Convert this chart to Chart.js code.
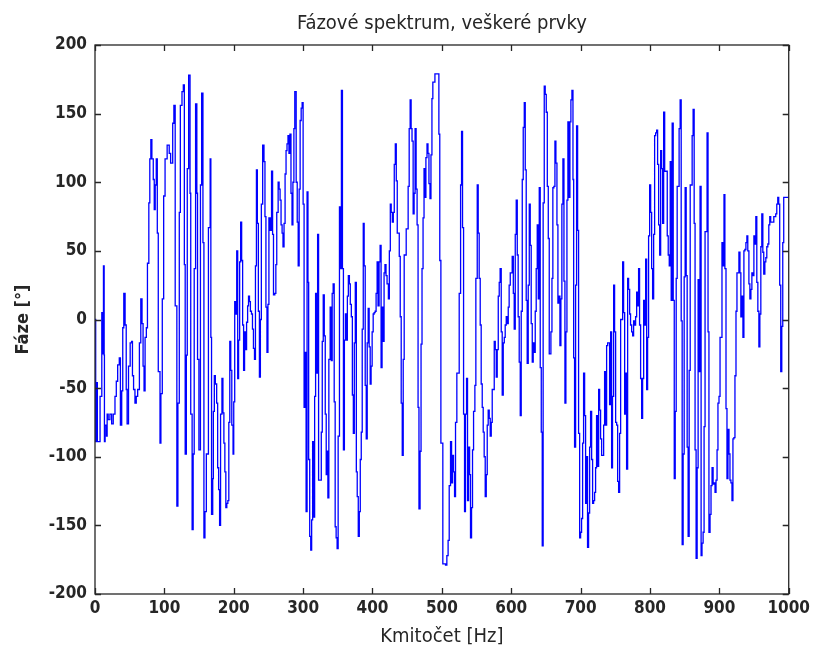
<!DOCTYPE html>
<html>
<head>
<meta charset="utf-8">
<script src="https://cdn.jsdelivr.net/npm/chart.js@4.4.1/dist/chart.umd.min.js"></script>
<style>
  html, body { margin: 0; padding: 0; background: #fff; }
  #wrap { width: 814px; height: 651px; }
</style>
</head>
<body>
<div id="wrap"><canvas id="chart" width="814" height="651"></canvas></div>
<script>
// tick values
const xTicks = [0, 100, 200, 300, 400, 500, 600, 700, 800, 900, 1000];
const yTicks = [-200, -150, -100, -50, 0, 50, 100, 150, 200];

// phase spectrum: [frequency Hz, phase deg]
const phasePoints = [
  [0, 0], [1, -89], [2, -46], [3.4, -89], [6.5, -89], [7.3, -56], [9.8, 5], [11.2, -25], [12.2, 39], [13.2, -26],
  [13.6, -89], [14.6, -77], [16.6, -85], [17.5, -69], [19, -73], [21.5, -69], [24, -76], [26.3, -69], [28.8, -56], [30.7, -45],
  [32.7, -33], [35, -28], [36.6, -77], [38.5, -52], [40, -6], [41.5, 19], [43.4, -4], [45, -51], [46.3, -76], [48.3, -34],
  [50.7, -17], [52.7, -16], [54, -41], [55.6, -51], [57.6, -61], [59.5, -56], [61.5, -51], [64, -17], [66, 15], [67.8, -3],
  [69.3, -34], [70.7, -52], [72.2, -13], [74, -6], [75.6, 41], [77.6, 85], [79, 117], [80.5, 131], [82, 117], [84, 102],
  [85.4, 80], [86.8, 98], [88.3, 117], [89.8, 63], [91.2, -38], [93.7, -90], [95, -54], [97, 15], [99, 90], [101, 117],
  [104, 127], [107, 121], [109, 114], [112, 143], [113.7, 156], [115.6, 10], [118, -136], [119.5, -61], [121.5, 78], [123, 156],
  [125.4, 166], [127.3, 171], [128.8, 40], [130, -98], [131.7, -26], [133, 110], [135, 178], [137, 92], [138, -69], [140, -153],
  [141.5, -98], [143, 37], [145, 157], [146.8, 92], [147.8, -29], [149.8, -95], [152, 98], [153.7, 165], [155.6, 56], [157, -159],
  [158.5, -140], [160.5, -98],
  [163.5, 67], [166, 117], [167, -13], [168, -142], [169.7, -116], [170.6, -67], [172, -41], [173.5, -47], [175.4, -61], [176.8, -108],
  [178.2, -124], [179.6, -150], [181, -69], [183, -43], [184.4, -68], [185.8, -90], [187.2, -111], [188.6, -137], [190, -134], [191.5, -132],
  [192.9, -75], [194.3, -16], [195.7, -37], [197.2, -77], [199, -98], [200, -60], [201.4, 13], [202.8, 4], [204.3, 50], [205.7, -43],
  [207, -15], [208.5, 42], [210, 71], [211.4, 43], [212.8, -4], [214.2, -37], [215.6, -9], [217, -22], [218.5, -2], [220, 10],
  [221.3, 17], [222.7, 13], [224, 6], [225.6, 4], [227, -7], [228.4, -21], [229.9, -29], [231.3, 39], [232.7, 109], [234, 70],
  [235.5, 6], [237, -42], [238.4, 0], [239.8, 84], [241.7, 127], [243.6, 115], [245, 75], [246.4, 9], [247.9, -24], [249.3, 11],
  [250.7, 74], [252.6, 65], [254.5, 108], [256, 62], [257.3, 18], [259.2, 19], [260.7, 40], [262, 78], [264, 100], [265.4, 95],
  [266.8, 87], [268.2, 69], [269.7, 63], [271, 53], [272.5, 70], [274, 106], [275.4, 123], [276.8, 128], [278.2, 134], [279.6, 121],
  [281, 135], [282.5, 92], [284, 69], [285.3, 100], [286.7, 139], [288, 166], [290, 100], [291.5, 71], [292.9, 39], [294.3, 95],
  [295.7, 145], [297.2, 154], [298.6, 158], [300, 84], [301.4, -64], [302.8, -24], [304.3, -140], [305.7, 93], [307, 27], [308, -102],
  [309.5, -158], [311, -168], [312.3, -146], [313.7, -89], [315, -144], [316.6, -56], [318, 19], [319.4, -39], [320.9, 62], [322.3, -117],
  [326.2, -82], [327.6, -16], [329, 18], [330.5, -12], [331.9, -69], [333.3, -113], [334.8, -96], [335.7, -130], [337.1, -29], [339, 9],
  [340.5, -30], [341.9, 19], [343.3, 26], [344.8, -60], [346.2, -151], [347.6, -159], [349, -167], [350.5, -85], [352.4, 82], [353.8, 37],
  [355.2, 167], [356.7, 37], [358.1, -95], [359.5, -15], [361, 4], [362.4, -15], [363.8, 17], [365.2, 32], [366.7, 26], [368, 11],
  [369.5, 2], [371, -55], [372.4, -83], [373.8, -17], [375.2, 27], [376.7, -111], [378, -129], [379.5, -158], [381, -140], [382.4, -102],
  [383.8, -82], [385.2, -7], [386.7, 70], [388, 39], [389.5, -48], [391, -87], [392.4, -17], [393.8, 8], [395.2, -20], [396.7, -47],
  [398, -34], [399.5, -9], [401, 4], [402.4, 5], [403.8, 6], [405.2, 19], [406.7, 42], [408, 10], [409.5, 42], [411, 54],
  [412.4, -35], [413.8, 9], [415.2, -16], [416.7, 34], [418, 40], [419.5, 32], [421, 26], [422.9, 15], [424.3, 50], [425.7, 84],
  [427, 78], [428.6, 71], [430, 78], [431.4, 113], [432.9, 128], [434.3, 101], [435.7, 63], [437, 63], [438.6, 46], [440, 2],
  [441.4, -61], [442.9, -99], [444.3, -29], [445.7, 47], [447, 47], [448.6, 66], [450, 66], [451.4, 97], [452.9, 139], [454.3, 160],
  [455.7, 139], [457, 130], [458.6, 77], [460, 92], [461.4, 139], [462.9, 95], [464.3, 69], [465.7, -64], [467, -138], [468.6, -96],
  [470, -18], [471.4, 37], [472.9, 74], [474.3, 110], [475.7, 89], [477, 118], [478.6, 128], [480, 121], [481.4, 99], [482.9, 88],
  [484.3, 120], [485.7, 161], [487, 173], [488.6, 173], [490, 179], [494.3, 179], [495.7, 135], [497, 43], [498.6, -90], [500, -90],
  [501.4, -178], [505.3, -179], [507.2, -172], [509, -161], [510.6, -121], [512.5, -89], [514, -119], [515.4, -99], [516.8, -111], [518.3, -129],
  [519.7, -75], [521.6, -39], [523.6, -39], [525, 19], [527, 98], [528.4, 137], [529.8, 67], [531.3, -69], [532.7, -140], [534, -69],
  [535.6, -43], [537, -132], [538.5, -93], [540, -113], [541.3, -159], [542.8, -137], [544.2, -95], [545.7, -67], [547.6, -48], [549, 30],
  [551, 98], [552.4, 63], [553.8, 30], [555.3, -4], [556.7, -47], [558.2, -64], [559.6, -82], [561, -100], [562.5, -129], [564, -113],
  [565.4, -77], [566.8, -66], [568.3, -72], [569.7, -85], [571.2, -75], [572.6, -51], [574, -51], [575.5, -16], [577, -22], [578.4, -42],
  [579.8, -22], [581.3, 17], [582.7, 27], [584, 37], [585.6, -9], [587, -55], [588.5, -17], [590, -13], [591.3, -4], [592.8, 2],
  [594.2, -3], [595.7, 9], [597, 25], [598.6, 34], [600, 34], [601.4, 46], [603, 19], [604.3, -7], [605.8, 62], [607.2, 87],
  [608.7, 47], [610, 2], [611.5, -31], [613, -70], [614.4, 6], [615.9, 102], [617.3, 140], [618.8, 158], [620.2, 109], [621.6, 14],
  [623, -32], [624.5, 25], [626, 84], [627.4, 54], [628.8, -3], [630.3, -31], [631.7, -17], [633, -24], [634.6, 6], [636, 37],
  [637.5, 69], [639, 15], [640.4, 96], [641.8, -35], [643.3, -82], [644.7, -165], [646, 85], [647.6, 170], [649, 164], [650.5, 151],
  [652, 97], [653.4, 59], [654.8, -25],
  [657.2, -9], [658.7, 30], [660, 96], [661.5, 97], [663, 130], [664.4, 114], [665.9, 69], [667.3, 12], [668.75, 17], [670.2, -19],
  [671.6, 15], [673, 84], [674.5, 117], [676, 28], [677.4, -61], [678.8, -9], [680.3, 87], [681.7, 144], [683.2, 89], [684.6, 144],
  [686, 160], [687.5, 167], [689, 102], [690, -28], [691.3, -93], [692.8, 25], [694.2, 141], [695.7, 65], [697.1, -83], [698.6, -159],
  [700, -155], [701.4, -145], [702.9, -90], [704.3, -39], [705.8, -70], [707.2, -134], [708.7, -100], [710, -166], [711.5, -141], [713, -93],
  [714.4, -67], [715.9, -102], [717.3, -134], [718.75, -132], [720.2, -126], [721.6, -108], [723, -70], [724.5, -107], [726, -51], [727.4, -66],
  [728.8, -87], [730.3, -99], [731.7, -99], [733.2, -77], [734.6, -38], [736, -77], [737.5, -19], [739, -17], [740.4, -17], [741.8, -62],
  [743.3, -9], [744.7, -108], [746, -56], [747.6, 25], [749, -9], [750.5, -75], [752, -77], [753.4, -118], [754.8, -126], [756.25, -83],
  [757.7, 0], [759, 0], [760.6, 42], [762, 5], [763.5, -69], [765, -39], [766.3, -109], [767.8, 30], [769.2, 22], [770.7, 4],
  [772, -4], [773.6, -9], [775, -12], [776.4, -1], [777.9, -4], [779.3, 2], [780.8, 20], [782.2, 10], [783.6, 37], [785, -4],
  [786.5, -43], [788, -72], [789.4, -43], [790.9, 14], [792.3, -4], [793.75, 44], [795.2, -51], [796.6, -13], [798, 61], [799.5, 98],
  [801, 78], [802.4, 37], [803.8, 15], [805.3, 62], [806.7, 134], [808.2, 136], [809.6, 138], [811, 113], [812.5, 69], [814, 47],
  [815.4, 123], [816.8, 110], [818.3, 70], [819.7, 151], [821.2, 108],
  [824.9, 61], [826.3, 47], [827.8, 39], [829.2, 115], [830.6, 14], [832, 143], [833.5, 14], [835, -116], [836.4, -67], [837.8, 30],
  [839.2, 97], [840.7, 97], [842, 139], [843.5, 160], [845, -1], [846.4, -164], [847.8, -98], [849.3, 31], [850.7, 96], [852.2, 32],
  [853.6, -93], [855, -158], [856.5, -37], [858, 98], [859.3, 98], [860.8, 134], [862.2, 153], [863.7, 70], [865, -95], [866.5, -174],
  [868, -108], [869.4, 29], [870.8, -38], [872.2, 97], [873.7, -172], [875, -163], [876.6, -155], [878, -78], [879.4, 64], [880.9, 64],
  [882.3, 136], [883.7, -9], [885, -155], [886.6, -142], [888, -121], [889.5, -108], [891, -120], [892.3, -119], [893.8, -126], [895.2, -117],
  [896.7, -95], [898, -61], [899.5, -56], [901, -13], [902.4, -13], [903.8, 56], [905.3, 39], [906.7, 91], [908, 37], [909.6, -65],
  [911, -116], [912.4, -80], [913.9, -98], [915.3, -117], [916.7, -119], [918.2, -132], [919.6, -87], [921, -86], [922.5, -41], [924, 6],
  [925.4, 34], [926.8, 34], [928.2, 49], [929.7, 34], [931, 2], [932.5, 17], [934, -13], [935.4, 50], [936.8, 51], [938.3, 56],
  [939.7, 61], [941, 50], [942.6, 26], [944, 15], [945.5, 22], [946.9, 34], [948.3, 32], [949.8, 61], [951.2, 55], [952.6, 75],
  [954, 27], [955.5, 6], [957, -20], [958.4, 4], [959.8, 53], [961.2, 77], [962.7, 49], [964, 33], [965.6, 42], [967, 45],
  [968.4, 53], [969.9, 55], [971.3, 69], [972.7, 75], [974, 71], [975.6, 71], [977, 71], [978.5, 75], [979.9, 75], [981.3, 77],
  [982.8, 84], [984.2, 89], [985.6, 84], [987, 25], [988.5, -38], [990, -5], [991.4, 56], [992.8, 89], [994.3, 89], [1000, 89]
];

const fontFamily = "'DejaVu Sans Condensed', 'Liberation Sans', sans-serif";
const textColor = '#262626';

// MATLAB-like box with ticks pointing inwards
const boxPlugin = {
  id: 'box',
  afterDraw(chart) {
    const { ctx, chartArea: { left, right, top, bottom }, scales: { x, y } } = chart;
    const len = 6;
    ctx.save();
    ctx.strokeStyle = textColor;
    ctx.lineWidth = 1.3;
    ctx.strokeRect(left, top, right - left, bottom - top);
    ctx.beginPath();
    x.ticks.forEach(t => {
      const px = Math.round(x.getPixelForValue(t.value)) + 0.5;
      ctx.moveTo(px, bottom); ctx.lineTo(px, bottom - len);
      ctx.moveTo(px, top); ctx.lineTo(px, top + len);
    });
    y.ticks.forEach(t => {
      const py = Math.round(y.getPixelForValue(t.value)) + 0.5;
      ctx.moveTo(left, py); ctx.lineTo(left + len, py);
      ctx.moveTo(right, py); ctx.lineTo(right - len, py);
    });
    ctx.stroke();
    ctx.restore();
  }
};

new Chart(document.getElementById('chart'), {
  type: 'line',
  data: {
    datasets: [{
      data: phasePoints.map(p => ({ x: p[0], y: p[1] })),
      borderColor: '#0000ff',
      borderWidth: 1.3,
      pointRadius: 0,
      stepped: true,
      fill: false
    }]
  },
  options: {
    responsive: false,
    animation: false,
    layout: { padding: { left: 0, right: 24, top: 0, bottom: 0 } },
    plugins: {
      legend: { display: false },
      tooltip: { enabled: false },
      title: {
        display: true,
        fullSize: false,
        text: 'Fázové spektrum, veškeré prvky',
        color: textColor,
        font: { family: fontFamily, size: 20, weight: 'normal' },
        padding: { top: 12, bottom: 9 }
      }
    },
    scales: {
      x: {
        type: 'linear',
        min: 0,
        max: 1000,
        afterBuildTicks: s => { s.ticks = xTicks.map(v => ({ value: v })); },
        afterFit: s => { s.height = 57; },
        grid: { display: false, drawTicks: false },
        border: { display: false },
        ticks: { color: textColor, font: { family: fontFamily, size: 17, weight: 'bold' }, padding: 4, maxRotation: 0, callback: v => String(v) },
        title: {
          display: true,
          text: 'Kmitočet [Hz]',
          color: textColor,
          font: { family: fontFamily, size: 20, weight: 'normal' },
          padding: { top: 0, bottom: 2 }
        }
      },
      y: {
        type: 'linear',
        min: -200,
        max: 200,
        afterBuildTicks: s => { s.ticks = yTicks.map(v => ({ value: v })); },
        afterFit: s => { s.width = 95; },
        grid: { display: false, drawTicks: false },
        border: { display: false },
        ticks: { color: textColor, font: { family: fontFamily, size: 17, weight: 'bold' }, padding: 8, callback: v => String(v) },
        title: {
          display: true,
          text: 'Fáze [°]',
          color: textColor,
          font: { family: fontFamily, size: 18, weight: 'bold' },
          padding: { top: 13, bottom: 0 }
        }
      }
    }
  },
  plugins: [boxPlugin]
});
</script>
</body>
</html>
